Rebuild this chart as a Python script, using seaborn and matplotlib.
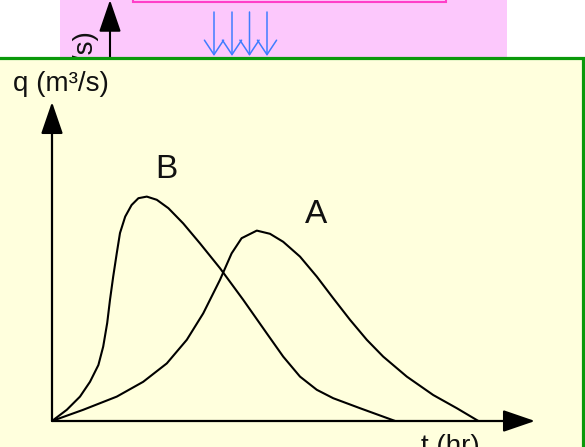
import matplotlib
matplotlib.use("Agg")
import matplotlib.pyplot as plt
from matplotlib.patches import Rectangle
import seaborn as sns
import pandas as pd

sns.set_theme(style="white")
plt.rcParams['font.family'] = ['Liberation Sans', 'DejaVu Sans']

# Hydrograph B (fast response) - time (hr), discharge (m3/s), arbitrary units
t_b = [0, 0.37, 0.70, 0.95, 1.16, 1.28, 1.38, 1.45, 1.53, 1.62, 1.70, 1.83, 1.99, 2.16, 2.37,
       2.62, 2.91, 3.28, 3.70, 4.20, 4.78, 5.37, 5.78, 6.20, 6.62, 7.03, 7.70, 8.58]
q_b = [0, 0.28, 0.61, 0.98, 1.40, 1.86, 2.45, 3.03, 3.61, 4.20, 4.70, 5.11, 5.40, 5.57, 5.61,
       5.53, 5.32, 4.94, 4.44, 3.82, 3.03, 2.19, 1.61, 1.11, 0.78, 0.57, 0.32, 0]

# Hydrograph A (slow response)
t_a = [0, 0.78, 1.62, 2.28, 2.87, 3.37, 3.78, 4.20, 4.49, 4.74, 5.12, 5.45, 5.78, 6.20,
       6.62, 7.03, 7.45, 7.87, 8.28, 8.87, 9.53, 10.12, 10.66]
q_a = [0, 0.28, 0.61, 0.98, 1.44, 2.03, 2.69, 3.53, 4.19, 4.57, 4.76, 4.68, 4.48, 4.11,
       3.61, 3.07, 2.53, 2.03, 1.61, 1.11, 0.65, 0.32, 0]

curve_labels = ['B', 'A']
label_pos = [(2.87, 6.07), (6.59, 4.95)]
x_label = 't (hr)'
y_label = 'q (m³/s)'
t_max, q_max = 12.075, 7.975

df = pd.concat([
    pd.DataFrame({'t': t_b, 'q': q_b, 'curve': 'B'}),
    pd.DataFrame({'t': t_a, 'q': q_a, 'curve': 'A'}),
])

W, H = 585, 447
fig = plt.figure(figsize=(W / 100, H / 100), dpi=100)
fig.patch.set_facecolor('white')

# slide behind: only a strip above the green panel is visible
top = fig.add_axes([0, (H - 57) / H, 1, 57 / H])
top.set_xlim(0, W)
top.set_ylim(57, 0)
top.axis('off')
top.set_zorder(0)
top.add_patch(Rectangle((60, -10), 447, 80, facecolor='#fcc8fc', edgecolor='none', zorder=1))
top.add_patch(Rectangle((133, -20), 313, 22, facecolor='#fcc8fc', edgecolor='#ff3fc8', lw=1.5, zorder=2))
top.annotate('', xy=(110, 0), xytext=(110, 70), annotation_clip=False,
             arrowprops=dict(arrowstyle='-|>,head_length=0.99,head_width=0.34', mutation_scale=20,
                             color='black', lw=1.5, shrinkA=0, shrinkB=0), zorder=3)
top.text(86, 31.5, y_label, rotation=90, ha='center', va='top', fontsize=20,
         color='#111111', zorder=3, clip_on=True)
for xb in [214, 232, 249.5, 267]:
    top.annotate('', xy=(xb, 56), xytext=(xb, 12),
                 arrowprops=dict(arrowstyle='->,head_length=1.04,head_width=0.69', mutation_scale=10,
                                 color='#3f7dff', lw=1.1, shrinkA=0, shrinkB=0), zorder=3)

# green panel in front
bg = fig.add_axes([0, 0, 1, 1])
bg.set_xlim(0, W)
bg.set_ylim(H, 0)
bg.axis('off')
bg.set_zorder(1)
bg.add_patch(Rectangle((-10, 57.5), 592.5, 420, facecolor='#ffffdd', edgecolor='#0a990a', lw=2.3, zorder=5))
bg.text(13, 91, y_label, ha='left', va='baseline', fontsize=20, color='#111111', zorder=6)
bg.text(421, 454, x_label, ha='left', va='baseline', fontsize=20, color='#111111', zorder=6)

# hydrograph axes
ax = fig.add_axes([52 / W, 26 / H, 483 / W, 319 / H])
ax.set_zorder(2)
ax.patch.set_alpha(0)
for s in ax.spines.values():
    s.set_visible(False)
sns.lineplot(data=df, x='t', y='q', hue='curve', palette={'A': 'black', 'B': 'black'},
             sort=False, estimator=None, lw=1.5, legend=False, ax=ax)
ax.set_xlim(0, t_max)
ax.set_ylim(0, q_max)
ax.set_xticks([])
ax.set_yticks([])
ax.set_xlabel('')
ax.set_ylabel('')

head = dict(arrowstyle='-|>,head_length=0.99,head_width=0.34', mutation_scale=20,
            color='black', lw=1.6, shrinkA=0, shrinkB=0)
ax.annotate('', xy=(t_max, 0), xytext=(0, 0), arrowprops=head, annotation_clip=False)
ax.annotate('', xy=(0, q_max), xytext=(0, 0), arrowprops=head, annotation_clip=False)

for lab, (tx, qy) in zip(curve_labels, label_pos):
    ax.text(tx, qy, lab, ha='center', va='baseline', fontsize=24, color='#111111')

fig.savefig('out.png', dpi=100, facecolor='white')
